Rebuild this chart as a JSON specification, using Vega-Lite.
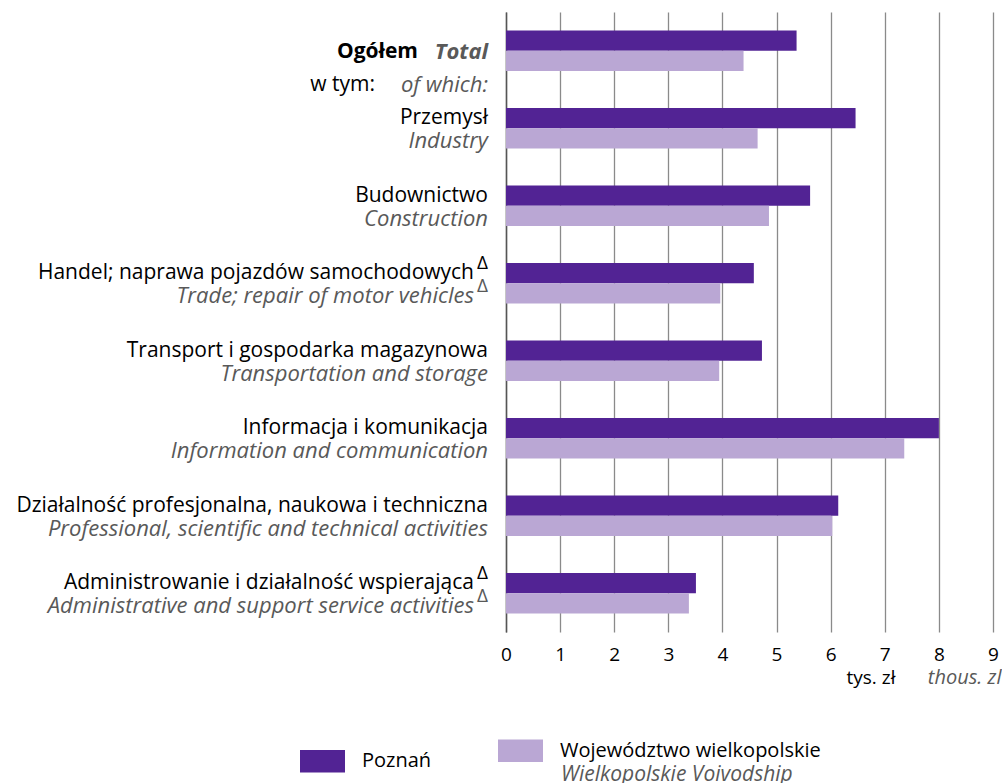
{
  "$schema": "https://vega.github.io/schema/vega-lite/v6.json",
  "width": 487,
  "height": 620,
  "autosize": "none",
  "padding": {"left": 506, "top": 12, "right": 9, "bottom": 151},
  "config": {"view": {"stroke": null}, "font": "Open Sans", "text": {"font": "Open Sans"}},
  "datasets": {
    "wartosci": [
      {"kat": "Ogółem", "seria": "Poznań", "seria_en": "Poznań", "wartosc": 5.37},
      {"kat": "Ogółem", "seria": "Województwo wielkopolskie", "seria_en": "Wielkopolskie Voivodship", "wartosc": 4.39},
      {"kat": "Przemysł", "seria": "Poznań", "seria_en": "Poznań", "wartosc": 6.46},
      {"kat": "Przemysł", "seria": "Województwo wielkopolskie", "seria_en": "Wielkopolskie Voivodship", "wartosc": 4.65},
      {"kat": "Budownictwo", "seria": "Poznań", "seria_en": "Poznań", "wartosc": 5.62},
      {"kat": "Budownictwo", "seria": "Województwo wielkopolskie", "seria_en": "Wielkopolskie Voivodship", "wartosc": 4.86},
      {"kat": "Handel", "seria": "Poznań", "seria_en": "Poznań", "wartosc": 4.58},
      {"kat": "Handel", "seria": "Województwo wielkopolskie", "seria_en": "Wielkopolskie Voivodship", "wartosc": 3.96},
      {"kat": "Transport", "seria": "Poznań", "seria_en": "Poznań", "wartosc": 4.73},
      {"kat": "Transport", "seria": "Województwo wielkopolskie", "seria_en": "Wielkopolskie Voivodship", "wartosc": 3.94},
      {"kat": "Informacja", "seria": "Poznań", "seria_en": "Poznań", "wartosc": 8.0},
      {"kat": "Informacja", "seria": "Województwo wielkopolskie", "seria_en": "Wielkopolskie Voivodship", "wartosc": 7.36},
      {"kat": "Działalność", "seria": "Poznań", "seria_en": "Poznań", "wartosc": 6.14},
      {"kat": "Działalność", "seria": "Województwo wielkopolskie", "seria_en": "Wielkopolskie Voivodship", "wartosc": 6.03},
      {"kat": "Administrowanie", "seria": "Poznań", "seria_en": "Poznań", "wartosc": 3.51},
      {"kat": "Administrowanie", "seria": "Województwo wielkopolskie", "seria_en": "Wielkopolskie Voivodship", "wartosc": 3.38}
    ],
    "etykiety": [
      {"kat": "Przemysł", "pl": "Przemysł", "en": "Industry", "przypis": ""},
      {"kat": "Budownictwo", "pl": "Budownictwo", "en": "Construction", "przypis": ""},
      {"kat": "Handel", "pl": "Handel; naprawa pojazdów samochodowych", "en": "Trade; repair of motor vehicles", "przypis": "Δ"},
      {"kat": "Transport", "pl": "Transport i gospodarka magazynowa", "en": "Transportation and storage", "przypis": ""},
      {"kat": "Informacja", "pl": "Informacja i komunikacja", "en": "Information and communication", "przypis": ""},
      {"kat": "Działalność", "pl": "Działalność profesjonalna, naukowa i techniczna", "en": "Professional, scientific and technical activities", "przypis": ""},
      {"kat": "Administrowanie", "pl": "Administrowanie i działalność wspierająca", "en": "Administrative and support service activities", "przypis": "Δ"}
    ],
    "ogolem": [
      {"kat": "Ogółem", "pl": "Ogółem", "en": "Total", "pl2": "w tym:", "en2": "of which:"}
    ]
  },
  "encoding": {
    "y": {
      "field": "kat",
      "type": "nominal",
      "scale": {
        "domain": ["Ogółem", "Przemysł", "Budownictwo", "Handel", "Transport", "Informacja", "Działalność", "Administrowanie"],
        "paddingInner": 0.48,
        "paddingOuter": 0.24
      },
      "axis": {"labels": false, "ticks": false, "title": null, "grid": false, "domainColor": "#555555", "domainWidth": 1.5}
    }
  },
  "resolve": {"axis": {"x": "independent"}},
  "layer": [
    {
      "data": {"name": "wartosci"},
      "mark": {"type": "bar"},
      "encoding": {
        "yOffset": {
          "field": "seria",
          "type": "nominal",
          "scale": {"domain": ["Poznań", "Województwo wielkopolskie"], "paddingInner": 0, "paddingOuter": 0}
        },
        "x": {
          "field": "wartosc",
          "type": "quantitative",
          "scale": {"domain": [0, 9], "nice": false},
          "axis": {
            "orient": "bottom",
            "values": [0, 1, 2, 3, 4, 5, 6, 7, 8, 9],
            "grid": true,
            "gridColor": "#8a8a8a",
            "gridWidth": 1.3,
            "ticks": false,
            "domain": false,
            "labelFlush": false,
            "labelFontSize": 19,
            "labelColor": "#000000",
            "labelPadding": 13,
            "title": "tys. zł",
            "titleFontSize": 19,
            "titleFontWeight": "normal",
            "titleColor": "#000000",
            "titleAlign": "right",
            "titleAnchor": null,
            "titleX": 389,
            "titleY": 45,
            "titleBaseline": "middle"
          }
        },
        "color": {
          "field": "seria",
          "type": "nominal",
          "scale": {"domain": ["Poznań", "Województwo wielkopolskie"], "range": ["#522394", "#BAA7D4"]},
          "legend": {
            "orient": "none",
            "legendX": -206,
            "legendY": 716,
            "direction": "horizontal",
            "title": null,
            "symbolType": "M-1,-0.5H1V0.5H-1Z",
            "symbolSize": 2025,
            "symbolStrokeWidth": 0,
            "labelFontSize": 20,
            "labelColor": "#000000",
            "labelOffset": 17,
            "labelLimit": 500,
            "columnPadding": 66,
            "labelExpr": "datum.label == 'Województwo wielkopolskie' ? ['Województwo wielkopolskie', ''] : datum.label"
          }
        },
        "opacity": {
          "field": "seria_en",
          "type": "nominal",
          "scale": {"domain": ["Poznań", "Wielkopolskie Voivodship"], "range": [1, 1]},
          "legend": {
            "orient": "none",
            "legendX": 34,
            "legendY": 752,
            "title": null,
            "values": ["Wielkopolskie Voivodship"],
            "symbolSize": 0,
            "symbolOpacity": 0,
            "symbolStrokeWidth": 0,
            "labelOffset": 0,
            "labelFontSize": 21,
            "labelFontStyle": "italic",
            "labelColor": "#595959",
            "labelLimit": 500
          }
        }
      }
    },
    {
      "data": {"name": "etykiety"},
      "transform": [{"filter": "datum.przypis == ''"}],
      "mark": {"type": "text", "align": "right", "baseline": "middle", "dx": -18, "dy": -10, "fontSize": 21, "color": "#000000"},
      "encoding": {"x": {"datum": 0, "type": "quantitative", "axis": null}, "text": {"field": "pl"}}
    },
    {
      "data": {"name": "etykiety"},
      "transform": [{"filter": "datum.przypis == ''"}],
      "mark": {"type": "text", "align": "right", "baseline": "middle", "dx": -18, "dy": 13, "fontSize": 22, "fontStyle": "italic", "color": "#595959"},
      "encoding": {
        "x": {
          "datum": 0,
          "type": "quantitative",
          "axis": {
            "orient": "bottom",
            "labels": false,
            "ticks": false,
            "domain": false,
            "grid": false,
            "title": "thous. zl",
            "titleFontSize": 20,
            "titleFontWeight": "normal",
            "titleFontStyle": "italic",
            "titleColor": "#595959",
            "titleAlign": "right",
            "titleAnchor": null,
            "titleX": 495,
            "titleY": 45,
            "titleBaseline": "middle"
          }
        },
        "text": {"field": "en"}
      }
    },
    {
      "data": {"name": "etykiety"},
      "transform": [{"filter": "datum.przypis != ''"}],
      "mark": {"type": "text", "align": "right", "baseline": "middle", "dx": -32, "dy": -10, "fontSize": 21, "color": "#000000"},
      "encoding": {"x": {"datum": 0, "type": "quantitative", "axis": null}, "text": {"field": "pl"}}
    },
    {
      "data": {"name": "etykiety"},
      "transform": [{"filter": "datum.przypis != ''"}],
      "mark": {"type": "text", "align": "right", "baseline": "middle", "dx": -32, "dy": 13, "fontSize": 22, "fontStyle": "italic", "color": "#595959"},
      "encoding": {"x": {"datum": 0, "type": "quantitative", "axis": null}, "text": {"field": "en"}}
    },
    {
      "data": {"name": "etykiety"},
      "transform": [{"filter": "datum.przypis != ''"}],
      "mark": {"type": "text", "align": "right", "baseline": "middle", "dx": -18, "dy": -20, "fontSize": 19, "color": "#000000"},
      "encoding": {"x": {"datum": 0, "type": "quantitative", "axis": null}, "text": {"field": "przypis"}}
    },
    {
      "data": {"name": "etykiety"},
      "transform": [{"filter": "datum.przypis != ''"}],
      "mark": {"type": "text", "align": "right", "baseline": "middle", "dx": -18, "dy": 3, "fontSize": 19, "color": "#595959"},
      "encoding": {"x": {"datum": 0, "type": "quantitative", "axis": null}, "text": {"field": "przypis"}}
    },
    {
      "data": {"name": "ogolem"},
      "mark": {"type": "text", "align": "right", "baseline": "middle", "dx": -88, "dy": 1, "fontSize": 21, "fontWeight": "bold", "color": "#000000"},
      "encoding": {"x": {"datum": 0, "type": "quantitative", "axis": null}, "text": {"field": "pl"}}
    },
    {
      "data": {"name": "ogolem"},
      "mark": {"type": "text", "align": "right", "baseline": "middle", "dx": -18, "dy": 1, "fontSize": 22, "fontWeight": "bold", "fontStyle": "italic", "color": "#595959"},
      "encoding": {"x": {"datum": 0, "type": "quantitative", "axis": null}, "text": {"field": "en"}}
    },
    {
      "data": {"name": "ogolem"},
      "mark": {"type": "text", "align": "right", "baseline": "middle", "dx": -131, "dy": 34, "fontSize": 21, "color": "#000000"},
      "encoding": {"x": {"datum": 0, "type": "quantitative", "axis": null}, "text": {"field": "pl2"}}
    },
    {
      "data": {"name": "ogolem"},
      "mark": {"type": "text", "align": "right", "baseline": "middle", "dx": -18, "dy": 34, "fontSize": 22, "fontStyle": "italic", "color": "#595959"},
      "encoding": {"x": {"datum": 0, "type": "quantitative", "axis": null}, "text": {"field": "en2"}}
    }
  ]
}
